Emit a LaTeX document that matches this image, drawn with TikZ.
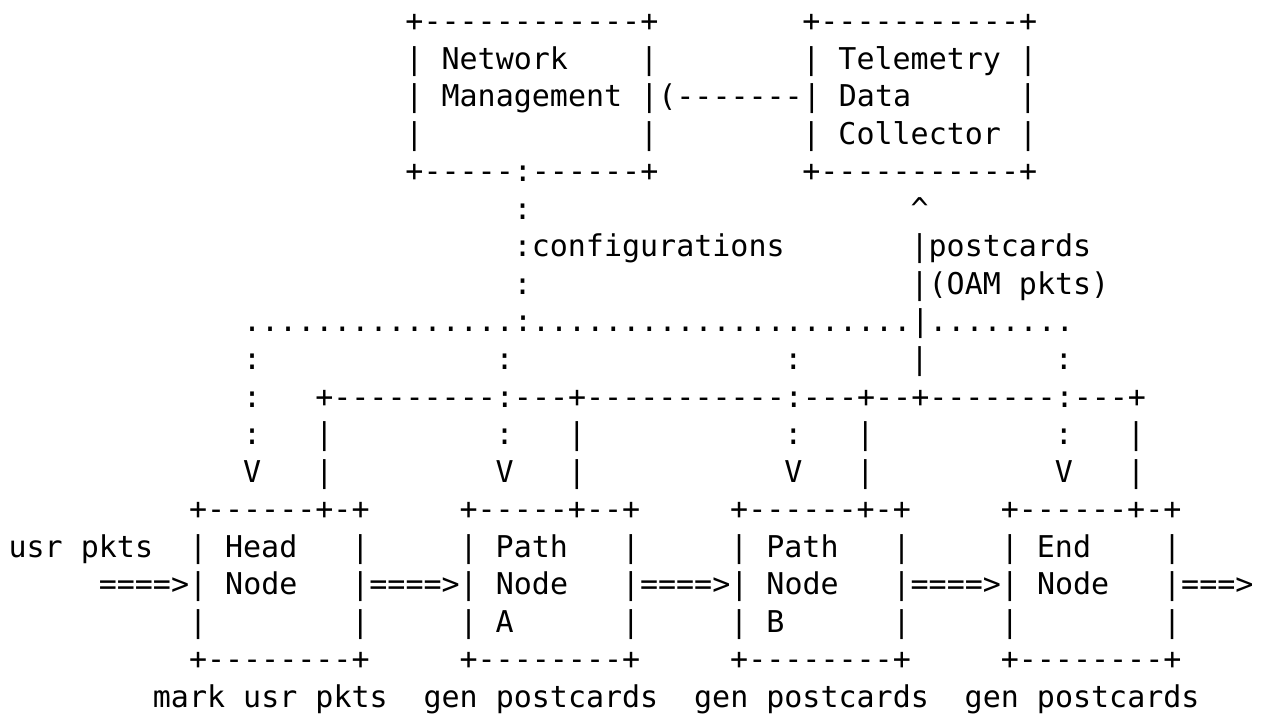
\documentclass[tikz,border=0pt]{standalone}
\usepackage{fontspec}
\setmonofont{DejaVu Sans Mono}
\tikzset{asc/.style={anchor=base west,inner sep=0pt,outer sep=0pt,text=black,
  font=\ttfamily\fontsize{30}{36}\selectfont}}
\newcommand\ascrun[4]{\node[asc] (#1) at ({8.6+#2*18.04},{31.5+#3*37.55}) {#4};}
\begin{document}
\begin{tikzpicture}[x=1pt,y=-1pt]
\fill[white] (0,0) rectangle (1265,718);
\useasboundingbox (0,0) rectangle (1265,718);
% row 0
\ascrun{nmA}{22}{0}{+------------+}
\ascrun{tdA}{44}{0}{+-----------+}
% row 1
\ascrun{nmB}{22}{1}{| Network}
\ascrun{nmBr}{35}{1}{|}
\ascrun{tdB}{44}{1}{| Telemetry |}
% row 2
\ascrun{nmC}{22}{2}{| Management |(-------| Data}
\ascrun{tdCr}{56}{2}{|}
% row 3
\ascrun{nmD}{22}{3}{|}
\ascrun{nmDr}{35}{3}{|}
\ascrun{tdD}{44}{3}{| Collector |}
% row 4
\ascrun{nmE}{22}{4}{+-----:------+}
\ascrun{tdE}{44}{4}{+-----------+}
% rows 5-7
\ascrun{cfA}{28}{5}{:}
\ascrun{pcA}{50}{5}{\textasciicircum}
\ascrun{cfB}{28}{6}{:configurations}
\ascrun{pcB}{50}{6}{|postcards}
\ascrun{cfC}{28}{7}{:}
\ascrun{pcC}{50}{7}{|(OAM pkts)}
% row 8
\ascrun{dots}{13}{8}{...............:.....................|........}
% row 9
\ascrun{rnA}{13}{9}{:}
\ascrun{rnB}{27}{9}{:}
\ascrun{rnC}{43}{9}{:}
\ascrun{rnD}{50}{9}{|}
\ascrun{rnE}{58}{9}{:}
% row 10
\ascrun{rtA}{13}{10}{:}
\ascrun{rtB}{17}{10}{+---------:---+-----------:---+--+-------:---+}
% row 11
\ascrun{rlA}{13}{11}{:}
\ascrun{rlB}{17}{11}{|}
\ascrun{rlC}{27}{11}{:}
\ascrun{rlD}{31}{11}{|}
\ascrun{rlE}{43}{11}{:}
\ascrun{rlF}{47}{11}{|}
\ascrun{rlG}{58}{11}{:}
\ascrun{rlH}{62}{11}{|}
% row 12
\ascrun{rvA}{13}{12}{V}
\ascrun{rvB}{17}{12}{|}
\ascrun{rvC}{27}{12}{V}
\ascrun{rvD}{31}{12}{|}
\ascrun{rvE}{43}{12}{V}
\ascrun{rvF}{47}{12}{|}
\ascrun{rvG}{58}{12}{V}
\ascrun{rvH}{62}{12}{|}
% row 13
\ascrun{hdA}{10}{13}{+------+-+}
\ascrun{paA}{25}{13}{+-----+--+}
\ascrun{pbA}{40}{13}{+------+-+}
\ascrun{enA}{55}{13}{+------+-+}
% row 14
\ascrun{usr}{0}{14}{usr pkts}
\ascrun{hdB}{10}{14}{| Head}
\ascrun{hdBr}{19}{14}{|}
\ascrun{paB}{25}{14}{| Path}
\ascrun{paBr}{34}{14}{|}
\ascrun{pbB}{40}{14}{| Path}
\ascrun{pbBr}{49}{14}{|}
\ascrun{enB}{55}{14}{| End}
\ascrun{enBr}{64}{14}{|}
% row 15
\ascrun{flA}{5}{15}{====>| Node}
\ascrun{flB}{19}{15}{|====>| Node}
\ascrun{flC}{34}{15}{|====>| Node}
\ascrun{flD}{49}{15}{|====>| Node}
\ascrun{flE}{64}{15}{|===>}
% row 16
\ascrun{hdD}{10}{16}{|}
\ascrun{hdDr}{19}{16}{|}
\ascrun{paD}{25}{16}{| A}
\ascrun{paDr}{34}{16}{|}
\ascrun{pbD}{40}{16}{| B}
\ascrun{pbDr}{49}{16}{|}
\ascrun{enD}{55}{16}{|}
\ascrun{enDr}{64}{16}{|}
% row 17
\ascrun{hdE}{10}{17}{+--------+}
\ascrun{paE}{25}{17}{+--------+}
\ascrun{pbE}{40}{17}{+--------+}
\ascrun{enE}{55}{17}{+--------+}
% row 18
\ascrun{lbA}{8}{18}{mark usr pkts}
\ascrun{lbB}{23}{18}{gen postcards}
\ascrun{lbC}{38}{18}{gen postcards}
\ascrun{lbD}{53}{18}{gen postcards}
\end{tikzpicture}
\end{document}
